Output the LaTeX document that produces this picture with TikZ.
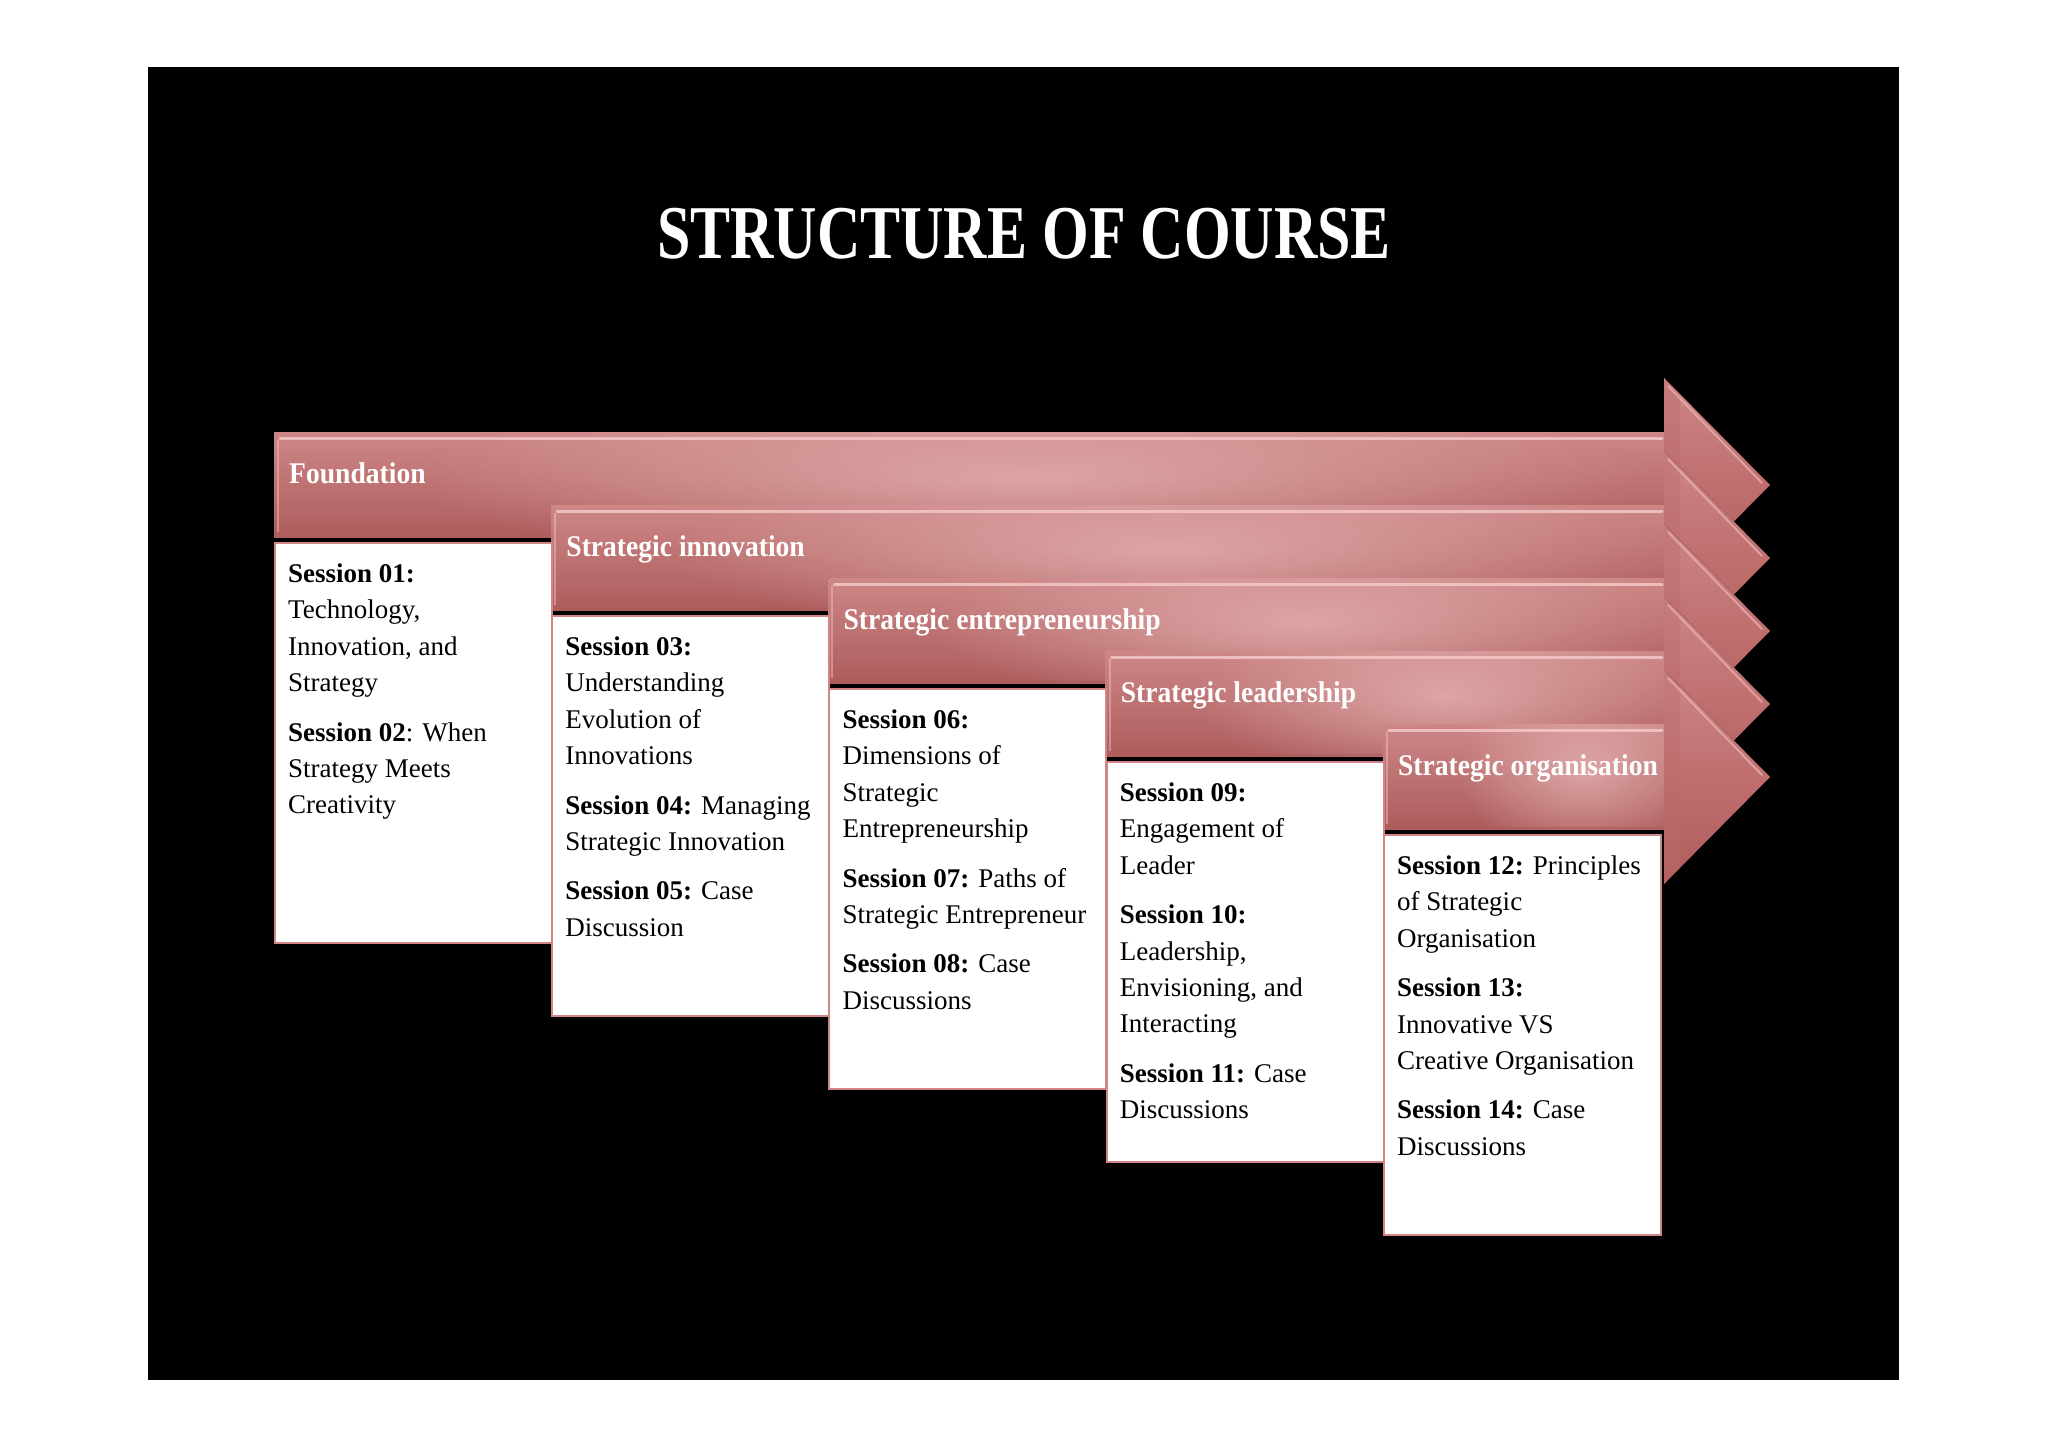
\documentclass[tikz,border=0pt]{standalone}
\usepackage{fontspec}
\usetikzlibrary{fadings}
\setmainfont{Liberation Serif}
\newfontfamily\titlefont[FakeStretch=0.79]{Liberation Serif}
\newfontfamily\headfont[FakeStretch=0.92]{Liberation Serif}
\definecolor{arrL}{HTML}{BC6A6A}
\definecolor{arrR}{HTML}{C06E6E}
\definecolor{bandTop}{HTML}{CD8787}
\definecolor{bandBot}{HTML}{AE5C5C}
\definecolor{glow}{HTML}{E8B8B8}
\definecolor{hilite}{HTML}{F4C8C8}
\definecolor{boxedge}{HTML}{D08686}
\tikzfading[name=softglow, inner color=transparent!20, outer color=transparent!100]
\tikzset{
  bandshade/.style={top color=bandTop, bottom color=bandBot},
  sessbox/.style={fill=white, draw=boxedge, line width=2pt, anchor=north west,
    minimum width=277pt, minimum height=400pt, inner sep=0pt},
  sesstext/.style={anchor=north west, inner sep=0pt, align=left,
    font=\fontsize{27}{36.4}\selectfont, text=black},
  headtext/.style={anchor=base west, inner sep=0pt,
    font=\headfont\bfseries\fontsize{30}{36}\selectfont, text=white},
  titletext/.style={anchor=base, inner sep=0pt,
    font=\titlefont\bfseries\fontsize{76}{80}\selectfont, text=white}
}
\begin{document}
\begin{tikzpicture}[x=1pt,y=-1pt]
\useasboundingbox (0,0) rectangle (2048,1448);
\fill[white] (0,0) rectangle (2048,1448);
\fill[black] (148,67) rectangle (1899,1380);
\node[titletext] (title) at (1024,258) {STRUCTURE OF COURSE};

\foreach \k/\lab/\nm in {0/Foundation/found,1/Strategic innovation/sinn,2/Strategic entrepreneurship/sent,3/Strategic leadership/slead,4/Strategic organisation/sorg}{
  \pgfmathsetmacro\L{274+277.2*\k}
  \pgfmathsetmacro\T{432+73*\k}
  \pgfmathsetmacro\C{(\L+1664)/2+60}
  \pgfmathsetmacro\R{(1664-\L)/2*0.9}
  % head
  \fill[top color=bandTop, bottom color=bandBot, middle color=arrR] (1664,\T) -- (1664,\T-54) -- (1770,\T+53) -- (1664,\T+160) -- (1664,\T+105) -- cycle;
  \fill[arrL, opacity=0.4] (1664,\T-54) -- (1680,\T-38) -- (1680,\T+144) -- (1664,\T+160) -- cycle;
  % band
  \fill[bandshade] (\L,\T) rectangle (1664,\T+105);
  \begin{scope}
    \clip (\L,\T) rectangle (1664,\T+105);
    \fill[glow, path fading=softglow, fill opacity=0.9] (\C,\T+45) ellipse ({\R} and 90);
  \end{scope}
  \draw[hilite, line width=3pt, line cap=round, opacity=0.85] (\L+6,\T+6) -- (1662,\T+6);
  \draw[hilite, line width=2pt, line cap=round, opacity=0.55] (1668,\T-46) -- (1762,\T+51);
  \draw[hilite, line width=2pt, opacity=0.45] (\L+4,\T+8) -- (\L+4,\T+100);
  \draw[bandBot, line width=2pt, opacity=0.6] (\L,\T+104) -- (1664,\T+104);
  \node[headtext] (\nm) at (\L+15,\T+51) {\lab};
}

% session boxes
\node[sessbox] (box1) at (274,542) {};
\node[sessbox] (box2) at (551.2,615) {};
\node[sessbox] (box3) at (828.4,688) {};
\node[sessbox] (box4) at (1105.6,761) {};
\node[sessbox] (box5) at (1382.8,834) {};

\node[sesstext] (txt1) at (288,563.6) {\textbf{Session 01:}\\Technology,\\Innovation, and\\Strategy\\[13pt]\textbf{Session 02}: When\\Strategy Meets\\Creativity};
\node[sesstext] (txt2) at (565.2,636.6) {\textbf{Session 03:}\\Understanding\\Evolution of\\Innovations\\[13pt]\textbf{Session 04:} Managing\\Strategic Innovation\\[13pt]\textbf{Session 05:} Case\\Discussion};
\node[sesstext] (txt3) at (842.4,709.6) {\textbf{Session 06:}\\Dimensions of\\Strategic\\Entrepreneurship\\[13pt]\textbf{Session 07:} Paths of\\Strategic Entrepreneur\\[13pt]\textbf{Session 08:} Case\\Discussions};
\node[sesstext] (txt4) at (1119.6,782.6) {\textbf{Session 09:}\\Engagement of\\Leader\\[13pt]\textbf{Session 10:}\\Leadership,\\Envisioning, and\\Interacting\\[13pt]\textbf{Session 11:} Case\\Discussions};
\node[sesstext] (txt5) at (1396.8,855.6) {\textbf{Session 12:} Principles\\of Strategic\\Organisation\\[13pt]\textbf{Session 13:}\\Innovative VS\\Creative Organisation\\[13pt]\textbf{Session 14:} Case\\Discussions};
\end{tikzpicture}
\end{document}
